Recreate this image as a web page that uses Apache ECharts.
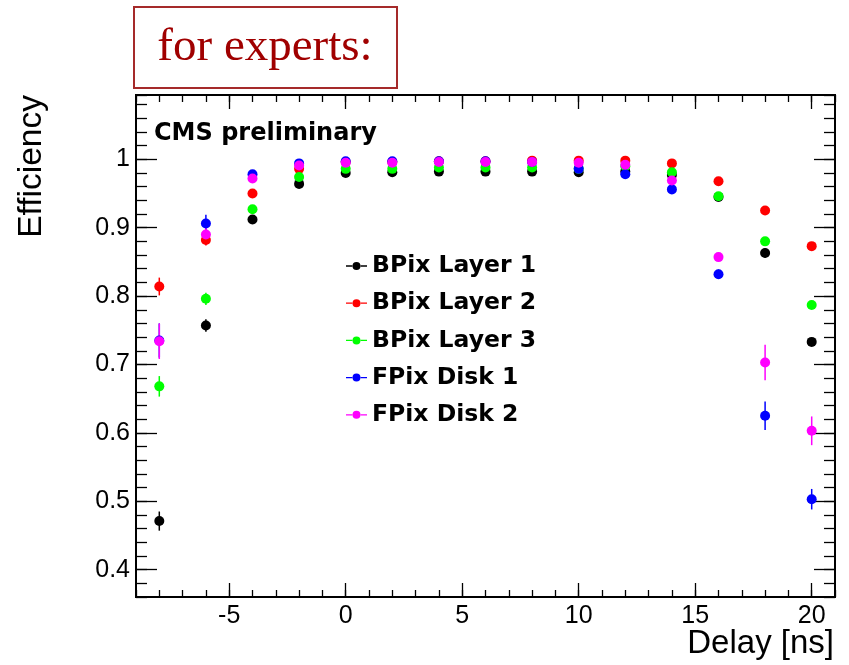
<!DOCTYPE html>
<html>
<head>
<meta charset="utf-8">
<script src="https://cdn.jsdelivr.net/npm/echarts@6/dist/echarts.min.js"></script>
<style>
html,body{margin:0;padding:0;background:#fff;}
#chart{width:849px;height:665px;}
</style>
</head>
<body>
<div id="chart"></div>
<script>
// ---- data ----
const delays = [-8, -6, -4, -2, 0, 2, 4, 6, 8, 10, 12, 14, 16, 18, 20];

const seriesNames = ['BPix Layer 1', 'BPix Layer 2', 'BPix Layer 3', 'FPix Disk 1', 'FPix Disk 2'];

const bpixL1 = [0.471, 0.757, 0.912, 0.964, 0.980, 0.981, 0.982, 0.982, 0.982, 0.981, 0.982, 0.977, 0.945, 0.863, 0.733];
const bpixL1Err = [0.014, 0.009, 0.005, 0.003, 0.002, 0.002, 0.002, 0.002, 0.002, 0.002, 0.002, 0.003, 0.004, 0.007, 0.006];

const bpixL2 = [0.814, 0.882, 0.950, 0.986, 0.996, 0.996, 0.997, 0.997, 0.998, 0.998, 0.998, 0.994, 0.968, 0.925, 0.873];
const bpixL2Err = [0.013, 0.008, 0.004, 0.002, 0.001, 0.001, 0.001, 0.001, 0.001, 0.001, 0.001, 0.002, 0.003, 0.004, 0.005];

const bpixL3 = [0.668, 0.796, 0.927, 0.974, 0.986, 0.986, 0.988, 0.988, 0.988, 0.986, 0.990, 0.981, 0.946, 0.880, 0.787];
const bpixL3Err = [0.015, 0.009, 0.005, 0.003, 0.002, 0.002, 0.002, 0.002, 0.002, 0.002, 0.002, 0.003, 0.004, 0.006, 0.006];

const fpixD1 = [0.735, 0.906, 0.978, 0.994, 0.997, 0.997, 0.997, 0.997, 0.996, 0.986, 0.978, 0.956, 0.832, 0.625, 0.503];
const fpixD1Err = [0.025, 0.013, 0.006, 0.003, 0.002, 0.002, 0.002, 0.002, 0.002, 0.002, 0.003, 0.004, 0.007, 0.021, 0.015];

const fpixD2 = [0.734, 0.890, 0.972, 0.991, 0.995, 0.995, 0.996, 0.996, 0.996, 0.995, 0.992, 0.969, 0.857, 0.703, 0.603];
const fpixD2Err = [0.026, 0.015, 0.006, 0.003, 0.002, 0.002, 0.002, 0.002, 0.002, 0.002, 0.003, 0.004, 0.006, 0.026, 0.021];

const xMajorTicks = [-5, 0, 5, 10, 15, 20];
const yMajorTicks = [0.4, 0.5, 0.6, 0.7, 0.8, 0.9, 1.0];

const xTitle = 'Delay [ns]';
const yTitle = 'Efficiency';
const cmsLabel = 'CMS preliminary';
const boxLabel = 'for experts:';
// ---------------------------------------

const colors = ['#000000', '#ff0000', '#00ff00', '#0000ff', '#ff00ff'];
const values = [bpixL1, bpixL2, bpixL3, fpixD1, fpixD2];
const errors = [bpixL1Err, bpixL2Err, bpixL3Err, fpixD1Err, fpixD2Err];

const X_MIN = -9, X_MAX = 21, Y_MIN = 0.36, Y_MAX = 1.094;
const FONT = 'DejaVu Sans';
const LFONT = 'Liberation Sans';

const series = [];
seriesNames.forEach((name, i) => {
  const pts = delays.map((d, k) => [d, values[i][k], errors[i][k]]);
  series.push({
    name: name + ' errors',
    type: 'custom',
    xAxisIndex: 0, yAxisIndex: 0,
    data: pts,
    silent: true,
    renderItem: function (params, api) {
      const x = api.value(0), y = api.value(1), e = api.value(2);
      const p1 = api.coord([x, y - e]);
      const p2 = api.coord([x, y + e]);
      return {
        type: 'line',
        shape: { x1: p1[0], y1: p1[1], x2: p2[0], y2: p2[1] },
        style: { stroke: colors[i], lineWidth: 1.5 }
      };
    }
  });
  series.push({
    name: name,
    type: 'scatter',
    xAxisIndex: 0, yAxisIndex: 0,
    data: pts.map(p => [p[0], p[1]]),
    symbol: 'circle',
    symbolSize: 10,
    itemStyle: { color: colors[i], opacity: 1 }
  });
});

function xAxisDef(position, major) {
  const ax = {
    type: 'value', position: position, min: X_MIN, max: X_MAX,
    axisLine: { show: false, onZero: false },
    splitLine: { show: false },
    axisTick: { show: true, inside: true, length: major ? 14 : 7, lineStyle: { color: '#000', width: 1.3 } },
    axisLabel: { show: false }
  };
  if (major) {
    ax.axisTick.customValues = xMajorTicks;
    if (position === 'bottom') {
      ax.axisLabel = { show: true, customValues: xMajorTicks, margin: 7, color: '#000', fontFamily: LFONT, fontSize: 25 };
    }
  } else {
    ax.interval = 1;
  }
  return ax;
}
function yAxisDef(position, major) {
  const ax = {
    type: 'value', position: position, min: Y_MIN, max: Y_MAX,
    axisLine: { show: false, onZero: false },
    splitLine: { show: false },
    axisTick: { show: true, inside: true, length: major ? 21 : 11, lineStyle: { color: '#000', width: 1.3 } },
    axisLabel: { show: false }
  };
  if (major) {
    ax.axisTick.customValues = yMajorTicks;
    if (position === 'left') {
      ax.axisLabel = { show: true, customValues: yMajorTicks, margin: 6, color: '#000', fontFamily: LFONT, fontSize: 25,
        formatter: v => String(Math.round(v * 10) / 10) };
    }
  } else {
    ax.interval = 0.02;
  }
  return ax;
}

const chart = echarts.init(document.getElementById('chart'), null, { renderer: 'canvas' });
chart.setOption({
  animation: false,
  backgroundColor: '#ffffff',
  grid: { left: 136, top: 95, right: 14, bottom: 68, show: true, borderColor: '#000', borderWidth: 2, backgroundColor: 'transparent', containLabel: false },
  xAxis: [xAxisDef('bottom', true), xAxisDef('bottom', false), xAxisDef('top', true), xAxisDef('top', false)],
  yAxis: [yAxisDef('left', true), yAxisDef('left', false), yAxisDef('right', true), yAxisDef('right', false)],
  legend: {
    data: seriesNames,
    orient: 'vertical',
    left: 346, top: 254,
    padding: 0,
    itemWidth: 21, itemHeight: 10.5,
    itemGap: 13.2,
    icon: 'path://M0,4.4 H6 V5.6 H0 Z M14,4.4 H20 V5.6 H14 Z M10,1.2 A3.8,3.8 0 1 1 9.99,1.2 Z',
    textStyle: { fontFamily: FONT, fontWeight: 'bold', fontSize: 23.5, color: '#000', lineHeight: 24 },
    selectedMode: false
  },
  graphic: [
    {
      type: 'rect', z: 10,
      shape: { x: 134, y: 7, width: 263, height: 81 },
      style: { fill: '#ffffff', stroke: '#a52a2a', lineWidth: 2 }
    },
    {
      type: 'text', z: 11, x: 265, y: 48,
      style: { text: boxLabel, fill: '#a00000', fontFamily: 'Liberation Serif', fontSize: 47,
        align: 'center', verticalAlign: 'middle', textAlign: 'center', textVerticalAlign: 'middle' }
    },
    {
      type: 'text', z: 11, x: 154, y: 134,
      style: { text: cmsLabel, fill: '#000', fontFamily: FONT, fontWeight: 'bold', fontSize: 24,
        align: 'left', verticalAlign: 'middle', textAlign: 'left', textVerticalAlign: 'middle' }
    },
    {
      type: 'text', z: 11, x: 834, y: 644,
      style: { text: xTitle, fill: '#000', fontFamily: LFONT, fontSize: 33,
        align: 'right', verticalAlign: 'middle', textAlign: 'right', textVerticalAlign: 'middle' }
    },
    {
      type: 'text', z: 11, x: 15, y: 95, rotation: Math.PI / 2,
      style: { text: yTitle, fill: '#000', fontFamily: LFONT, fontSize: 33.5,
        align: 'right', verticalAlign: 'top', textAlign: 'right', textVerticalAlign: 'top' }
    }
  ],
  series: series
});
</script>
</body>
</html>
